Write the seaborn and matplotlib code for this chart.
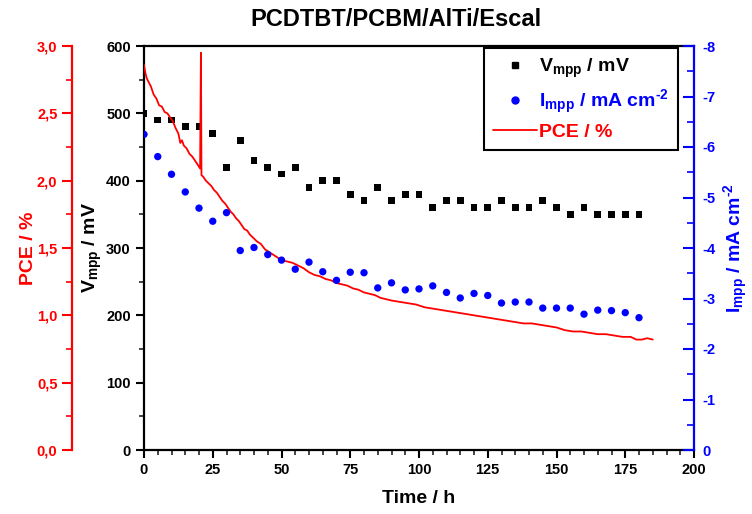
import matplotlib
matplotlib.use("Agg")
import matplotlib.pyplot as plt
import seaborn as sns
import pandas as pd
from matplotlib.ticker import MultipleLocator, FuncFormatter
from matplotlib.lines import Line2D

# ---------------- data ----------------
time_pts = [0, 5, 10, 15, 20, 25, 30, 35, 40, 45, 50, 55, 60, 65, 70, 75, 80, 85, 90,
            95, 100, 105, 110, 115, 120, 125, 130, 135, 140, 145, 150, 155, 160, 165,
            170, 175, 180]
vmpp = [500, 490, 490, 480, 480, 470, 420, 460, 430, 420, 410, 420, 390, 400, 400, 380,
        370, 390, 370, 380, 380, 360, 370, 370, 360, 360, 370, 360, 360, 370, 360, 350,
        360, 350, 350, 350, 350]
impp = [-6.25, -5.81, -5.46, -5.11, -4.79, -4.53, -4.70, -3.95, -4.01, -3.87, -3.76,
        -3.58, -3.72, -3.53, -3.36, -3.52, -3.51, -3.21, -3.31, -3.17, -3.19, -3.25,
        -3.12, -3.01, -3.10, -3.06, -2.91, -2.93, -2.93, -2.81, -2.81, -2.81, -2.69,
        -2.77, -2.76, -2.72, -2.62]

pce_time = [0, 0.5, 1.0, 1.5, 2.5, 3.5, 4.5, 5.5, 6.5, 7.5, 8.5, 9.5, 10.5, 11.5, 12.5,
            13.2, 13.8, 14.5, 15.5, 16.5, 17.5, 18.5, 19.5, 20.4, 20.7, 20.9, 21.5, 22.5,
            23.5, 24.5, 25.5, 26.5, 27.5, 28.5, 29.5, 30.5, 31.5, 32.5, 33.5, 34.5, 35.5,
            36.5, 37.5, 38.5, 39.5, 41, 42.5, 44, 45.5, 47, 48.5, 50, 52, 54, 56, 58, 60,
            62, 64, 66, 68, 70, 72, 74, 76, 78, 80, 82, 84, 86, 88, 90, 93, 96, 99, 102,
            105, 108, 111, 114, 117, 120, 123, 126, 129, 132, 135, 138, 141, 144, 147,
            150, 153, 156, 159, 162, 165, 168, 171, 174, 177, 179, 181, 183, 185]
pce = [2.86, 2.80, 2.76, 2.74, 2.70, 2.64, 2.61, 2.56, 2.55, 2.51, 2.50, 2.47, 2.44, 2.39,
       2.35, 2.28, 2.30, 2.26, 2.24, 2.20, 2.18, 2.15, 2.12, 2.09, 2.95, 2.04, 2.03, 2.00,
       1.98, 1.96, 1.93, 1.91, 1.88, 1.85, 1.83, 1.80, 1.77, 1.75, 1.72, 1.70, 1.67,
       1.64, 1.63, 1.60, 1.58, 1.55, 1.53, 1.49, 1.47, 1.45, 1.43, 1.41, 1.40, 1.39,
       1.37, 1.35, 1.32, 1.30, 1.29, 1.27, 1.26, 1.24, 1.23, 1.22, 1.20, 1.19, 1.17,
       1.16, 1.15, 1.13, 1.12, 1.11, 1.10, 1.09, 1.08, 1.06, 1.05, 1.04, 1.03, 1.02,
       1.01, 1.00, 0.99, 0.98, 0.97, 0.96, 0.95, 0.94, 0.94, 0.93, 0.92, 0.91, 0.89,
       0.88, 0.88, 0.87, 0.86, 0.86, 0.85, 0.84, 0.84, 0.82, 0.82, 0.83, 0.82]

title = "PCDTBT/PCBM/AlTi/Escal"
xlabel = "Time / h"
v_label = r"V$_{\mathregular{mpp}}$ / mV"
i_label = "I$_{\\mathregular{mpp}}$ / mA cm$^{\\mathregular{\u20102}}$"
pce_label = "PCE / %"

# ---------------- style ----------------
sns.set_theme(style="white")
plt.rcParams["font.family"] = ["Liberation Sans", "DejaVu Sans"]
plt.rcParams["font.weight"] = "bold"
plt.rcParams["mathtext.fontset"] = "custom"
plt.rcParams["mathtext.rm"] = "Liberation Sans:bold"
plt.rcParams["mathtext.it"] = "Liberation Sans:bold"
plt.rcParams["mathtext.bf"] = "Liberation Sans:bold"
plt.rcParams["mathtext.sf"] = "Liberation Sans:bold"
plt.rcParams["mathtext.default"] = "rm"

RED = "#ff0000"
BLUE = "#0000ff"
BLACK = "#000000"

df_v = pd.DataFrame({"t": time_pts, "v": vmpp})
df_i = pd.DataFrame({"t": time_pts, "i": impp})
df_p = pd.DataFrame({"t": pce_time, "p": pce})

fig = plt.figure(figsize=(7.52, 5.14), dpi=100)
L, R, B, T = 144 / 752, 694 / 752, 1 - 450 / 514, 1 - 46 / 514
ax = fig.add_axes([L, B, R - L, T - B])
ax_p = ax.twinx()
ax_i = ax.twinx()

# main Vmpp axis
sns.scatterplot(data=df_v, x="t", y="v", ax=ax, marker="s", s=24, color=BLACK,
                edgecolor="none", zorder=3)
ax.set_xlim(0, 200)
ax.set_ylim(0, 600)
ax.xaxis.set_major_locator(MultipleLocator(25))
ax.xaxis.set_minor_locator(MultipleLocator(5))
ax.yaxis.set_major_locator(MultipleLocator(100))
ax.yaxis.set_minor_locator(MultipleLocator(50))
ax.tick_params(axis="both", which="major", direction="out", length=6, width=1.5,
               labelsize=10.5, colors=BLACK, bottom=True, left=True, top=False, right=False)
ax.tick_params(axis="both", which="minor", direction="out", length=3.5, width=1.2,
               bottom=True, left=True, top=False, right=False)
for lab in ax.get_xticklabels() + ax.get_yticklabels():
    lab.set_fontweight("bold")
ax.set_xlabel(xlabel, fontsize=14, fontweight="bold", color=BLACK)
ax.set_ylabel(v_label, fontsize=14, fontweight="bold", color=BLACK)
ax.xaxis.set_label_coords(0.5, -0.1)
ax.yaxis.set_label_coords(-0.072, 0.5)
for s in ["left", "bottom", "top"]:
    ax.spines[s].set_color(BLACK)
    ax.spines[s].set_linewidth(1.6)
ax.spines["right"].set_visible(False)

# PCE axis (red, offset left)
sns.lineplot(data=df_p, x="t", y="p", ax=ax_p, color=RED, linewidth=1.3,
             estimator=None, sort=False, zorder=4)
ax_p.set_ylim(0, 3.0)
ax_p.yaxis.set_label_position("left")
ax_p.yaxis.tick_left()
ax_p.spines["left"].set_position(("axes", -72 / 550))
ax_p.spines["left"].set_visible(True)
ax_p.spines["left"].set_color(RED)
ax_p.spines["left"].set_linewidth(1.6)
for s in ["right", "top", "bottom"]:
    ax_p.spines[s].set_visible(False)
ax_p.yaxis.set_major_locator(MultipleLocator(0.5))
ax_p.yaxis.set_minor_locator(MultipleLocator(0.25))
ax_p.yaxis.set_major_formatter(FuncFormatter(lambda v, p: f"{v:.1f}".replace(".", ",")))
ax_p.tick_params(axis="y", which="major", direction="out", length=7, width=1.5,
                 colors=RED, labelsize=10.5, left=True, right=False)
ax_p.tick_params(axis="y", which="minor", direction="out", length=4, width=1.2,
                 colors=RED, left=True, right=False)
for lab in ax_p.get_yticklabels():
    lab.set_fontweight("bold")
ax_p.set_ylabel(pce_label, fontsize=14, fontweight="bold", color=RED)
ax_p.yaxis.set_label_coords(-0.195, 0.5)
ax_p.set_xlabel("")

# Impp axis (blue, right, inverted)
sns.scatterplot(data=df_i, x="t", y="i", ax=ax_i, marker="o", s=28, color=BLUE,
                edgecolor="none", zorder=3)
ax_i.set_ylim(0, -8)
ax_i.yaxis.set_major_locator(MultipleLocator(1))
ax_i.yaxis.set_minor_locator(MultipleLocator(0.5))
ax_i.yaxis.set_major_formatter(FuncFormatter(lambda v, p: "0" if round(v) == 0 else f"-{abs(int(round(v)))}"))
ax_i.tick_params(axis="y", which="major", direction="in", length=8, width=1.5,
                 colors=BLUE, labelsize=10.5, right=True, left=False, pad=6)
ax_i.tick_params(axis="y", which="minor", direction="in", length=5, width=1.2,
                 colors=BLUE, right=True, left=False)
for lab in ax_i.get_yticklabels():
    lab.set_fontweight("bold")
ax_i.spines["right"].set_color(BLUE)
ax_i.spines["right"].set_linewidth(1.6)
for s in ["left", "top", "bottom"]:
    ax_i.spines[s].set_visible(False)
ax_i.set_ylabel(i_label, fontsize=14, fontweight="bold", color=BLUE)
ax_i.yaxis.set_label_coords(1.05, 0.5)
ax_i.set_xlabel("")
ax_i.set_xlim(0, 200)
ax_p.set_xlim(0, 200)

# legend
handles = [
    Line2D([], [], linestyle="none", marker="s", markersize=5, color=BLACK),
    Line2D([], [], linestyle="none", marker="o", markersize=5, color=BLUE),
    Line2D([], [], color=RED, linewidth=1.3),
]
leg = ax_i.legend(handles, [v_label, i_label, pce_label], loc="upper right",
                  bbox_to_anchor=(0.971, 0.995), frameon=True, fancybox=False,
                  edgecolor=BLACK, framealpha=1, fontsize=14, handlelength=2.3,
                  handletextpad=0.1, borderpad=0.45, labelspacing=0.4, borderaxespad=0)
leg.get_frame().set_linewidth(1.5)
for txt, c in zip(leg.get_texts(), [BLACK, BLUE, RED]):
    txt.set_color(c)
    txt.set_fontweight("bold")

fig.text(396 / 752, 1 - 20 / 514, title, ha="center", va="center", fontsize=17,
         fontweight="bold", color=BLACK)

fig.savefig("out.png", dpi=100)
